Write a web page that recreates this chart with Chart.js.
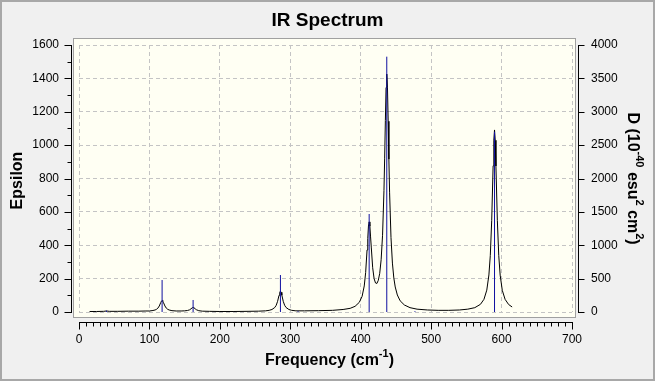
<!DOCTYPE html>
<html>
<head>
<meta charset="utf-8">
<script src="https://cdn.jsdelivr.net/npm/chart.js@4/dist/chart.umd.min.js"></script>
<style>
  html, body { margin: 0; padding: 0; background: #f0f0f0; }
</style>
</head>
<body>
<canvas id="ir" width="655" height="381"></canvas>
<script>
// broadened spectrum (Epsilon)
const curveFreq = [15,25,35,39,43,55,70,85,95,100,
  105,108,110,112,114,116,117,118,119,120,
  122,124,126,128,132,138,145,150,154,157,
  159,161,162,163,165,167,170,175,185,200,
  220,240,255,265,270,274,278,280,282,284,
  285,286,287,288,290,292,294,298,302,308,
  320,340,360,375,385,392,398,402,405,407,
  409,410,411,412,413,414,415,417,419,421,
  423,425,427,429,431,433,434,435,436,437,
  438,439,440,441,443,445,447,449,452,456,
  462,470,480,495,510,525,540,552,562,570,
  575,579,582,584,586,588,589,590,591,592,
  594,596,598,601,605,610,615];
const curveEps = [3,3,4,6,4,4,5,5,6,6,
  9,12,16,23,36,56,65,69,65,56,
  36,23,16,12,8,6,6,7,9,13,
  19,26,27,26,19,13,8,5,4,3,
  3,4,5,7,10,15,27,40,64,100,
  118,125,118,101,64,40,27,15,10,7,
  7,8,10,15,22,34,58,94,156,236,
  372,440,515,540,515,450,389,265,200,174,
  171,190,232,313,460,727,922,1147,1345,1426,
  1343,1143,916,718,446,293,204,150,102,67,
  42,26,17,12,10,10,12,17,26,46,
  76,131,222,339,549,876,1030,1091,1029,875,
  548,338,221,130,76,45,30];

// stick spectrum (D, right axis)
const stickFreq = [39, 118, 162, 286, 311, 412, 437, 477, 590];
const stickD    = [20, 479, 180, 554, 12, 1468, 3825, 12, 2700];

const xTicks = {min: 0, max: 700, step: 100, minor: 10};
const yTicks = {min: 0, max: 1600, step: 200, minor: 100};
const y2Ticks = {min: 0, max: 4000, step: 500};

const FONT = '"Liberation Sans", Arial, sans-serif';

function richText(ctx, parts, cx, cy, angle, size){
    const big = 'bold ' + size + 'px ' + FONT;
    const small = 'bold ' + Math.round(size * 0.68) + 'px ' + FONT;
    let w = 0;
    parts.forEach(p => {
        ctx.font = p.sup ? small : big;
        p.w = ctx.measureText(p.t).width;
        w += p.w;
    });
    ctx.save();
    ctx.translate(cx, cy);
    ctx.rotate(angle);
    ctx.fillStyle = '#000';
    ctx.textBaseline = 'middle';
    ctx.textAlign = 'left';
    let x = -w / 2;
    parts.forEach(p => {
        ctx.font = p.sup ? small : big;
        ctx.fillText(p.t, x, p.sup ? -size * 0.42 : 0);
        x += p.w;
    });
    ctx.restore();
}

const frame = {
    id: 'frame',
    beforeDraw(chart){
        const {ctx, chartArea: a} = chart;
        ctx.save();
        ctx.fillStyle = '#f0f0f0';
        ctx.fillRect(0, 0, chart.width, chart.height);
        // plot box
        ctx.fillStyle = '#fffff3';
        ctx.fillRect(a.left - 6, a.top - 7, a.width + 10, a.height + 13);
        ctx.strokeStyle = '#a0a0a0';
        ctx.lineWidth = 1;
        ctx.strokeRect(a.left - 5.5, a.top - 6.5, a.width + 9, a.height + 12);
        // outer frame
        ctx.lineWidth = 2;
        ctx.strokeStyle = '#a8a8a8';
        ctx.strokeRect(1, 1, chart.width - 2, chart.height - 2);
        ctx.restore();
    },
    afterDraw(chart){
        const {ctx, chartArea: a, scales} = chart;
        ctx.save();
        ctx.strokeStyle = '#000';
        ctx.lineWidth = 1;
        ctx.beginPath();
        // left axis
        const lx = a.left - 7.5;
        ctx.moveTo(lx, a.top);
        ctx.lineTo(lx, a.bottom + 1);
        for (let v = yTicks.min; v <= yTicks.max; v += yTicks.minor){
            const y = Math.round(scales.y.getPixelForValue(v)) + 0.5;
            ctx.moveTo(lx, y);
            ctx.lineTo(lx - (v % yTicks.step ? 4 : 7), y);
        }
        // right axis
        const rx = a.right + 6.5;
        ctx.moveTo(rx, a.top);
        ctx.lineTo(rx, a.bottom + 1);
        for (let v = y2Ticks.min; v <= y2Ticks.max; v += y2Ticks.step){
            const y = Math.round(scales.y2.getPixelForValue(v)) + 0.5;
            ctx.moveTo(rx, y);
            ctx.lineTo(rx + 6, y);
        }
        // bottom axis
        const by = a.bottom + 10.5;
        ctx.moveTo(a.left, by);
        ctx.lineTo(a.right + 1, by);
        for (let v = xTicks.min; v <= xTicks.max; v += xTicks.minor){
            const x = Math.round(scales.x.getPixelForValue(v)) + 0.5;
            ctx.moveTo(x, by);
            ctx.lineTo(x, by + (v % xTicks.step ? 4 : 7));
        }
        ctx.stroke();
        ctx.restore();

        richText(ctx, [{t: 'Frequency (cm'}, {t: '-1', sup: true}, {t: ')'}],
            (a.left + a.right) / 2 + 4, 361, 0, 16);
        richText(ctx, [{t: 'Epsilon'}], 18, (a.top + a.bottom) / 2 + 2, -Math.PI / 2, 16);
        richText(ctx, [{t: 'D (10'}, {t: '-40', sup: true}, {t: ' esu'}, {t: '2', sup: true},
            {t: ' cm'}, {t: '2', sup: true}, {t: ')'}], 632, (a.top + a.bottom) / 2, Math.PI / 2, 16);
    }
};

const curveData = curveFreq.map((f, i) => ({x: f, y: curveEps[i]}));
const stickData = [];
stickFreq.forEach((f, i) => {
    stickData.push({x: f, y: 0}, {x: f, y: stickD[i]}, {x: f, y: null});
});

function axisOpts(t, pad, size){
    return {
        min: t.min, max: t.max,
        ticks: {
            stepSize: t.step, padding: pad, color: '#000',
            font: {family: FONT, size: 12},
            callback: v => String(v)
        },
        grid: {color: '#c4c4c4', lineWidth: 1, drawTicks: false},
        border: {display: false, dash: [4, 3]},
        afterFit: size
    };
}

const xAxis = axisOpts(xTicks, 20, s => { s.height = 69; });
xAxis.type = 'linear';
xAxis.position = 'bottom';
const yAxis = axisOpts(yTicks, 20, s => { s.width = 79; });
yAxis.position = 'left';
const y2Axis = axisOpts(y2Ticks, 19, s => { s.width = 83; });
y2Axis.position = 'right';
y2Axis.grid = {display: false, drawTicks: false};

new Chart(document.getElementById('ir'), {
    type: 'line',
    data: {
        datasets: [{
            label: 'D',
            data: stickData,
            yAxisID: 'y2',
            borderColor: '#1010a0',
            borderWidth: 1,
            pointRadius: 0,
            spanGaps: false,
            tension: 0
        }, {
            label: 'Epsilon',
            data: curveData,
            yAxisID: 'y',
            borderColor: '#000',
            borderWidth: 1,
            pointRadius: 0,
            tension: 0
        }]
    },
    options: {
        responsive: false,
        animation: false,
        layout: {padding: 0},
        plugins: {
            legend: {display: false},
            tooltip: {enabled: false},
            title: {
                display: true,
                text: 'IR Spectrum',
                color: '#000',
                font: {family: FONT, size: 19, weight: 'bold'},
                padding: {top: 9, bottom: 13.2}
            }
        },
        scales: {x: xAxis, y: yAxis, y2: y2Axis}
    },
    plugins: [frame]
});
</script>
</body>
</html>
